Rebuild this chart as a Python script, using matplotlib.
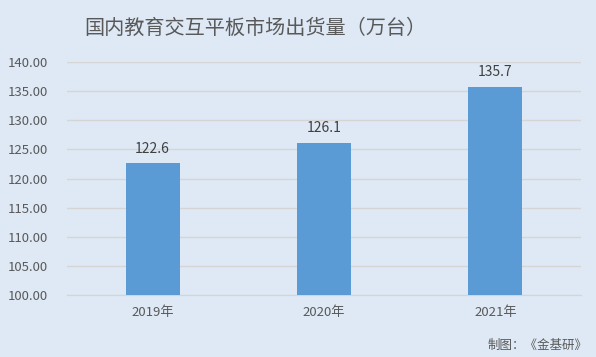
import matplotlib.pyplot as plt

plt.rcParams['font.family'] = ['Noto Sans CJK SC', 'DejaVu Sans']

years = ['2019年', '2020年', '2021年']
shipments = [122.6, 126.1, 135.7]
yticks = [100, 105, 110, 115, 120, 125, 130, 135, 140]

bg = '#dee9f5'
fig = plt.figure(figsize=(5.96, 3.57), dpi=100, facecolor=bg)
ax = fig.add_axes([67/596, 1-295/357, 514/596, 233/357], facecolor=bg)

x = range(len(years))
bars = ax.bar(x, shipments, width=0.315, color='#5b9bd5', zorder=3)
for xi, v in zip(x, shipments):
    ax.text(xi, v + 1.3, f'{v:.1f}', ha='center', va='bottom', fontsize=10, color='#404040')

ax.set_ylim(100, 140)
ax.set_xlim(-0.5, 2.5)
ax.set_yticks(yticks)
ax.set_yticklabels([f'{t:.2f}' for t in yticks], fontsize=9.5, color='#595959')
ax.set_xticks(list(x))
ax.set_xticklabels(years, fontsize=9.5, color='#595959')
ax.tick_params(length=0, pad=8)
ax.tick_params(axis='y', pad=14)
ax.grid(axis='y', color='#d5d5d5', linewidth=1, zorder=0)
for s in ax.spines.values():
    s.set_visible(False)
ax.spines['bottom'].set_visible(True)
ax.spines['bottom'].set_color('#d5d5d5')

fig.text(255/596, 1-28/357, '国内教育交互平板市场出货量（万台）', ha='center', va='center',
         fontsize=14.5, color='#595959')
fig.text(588/596, 1-345/357, '制图：《金基研》', ha='right', va='center', fontsize=9, color='#595959')

fig.savefig('out.png', dpi=100, facecolor=bg)
